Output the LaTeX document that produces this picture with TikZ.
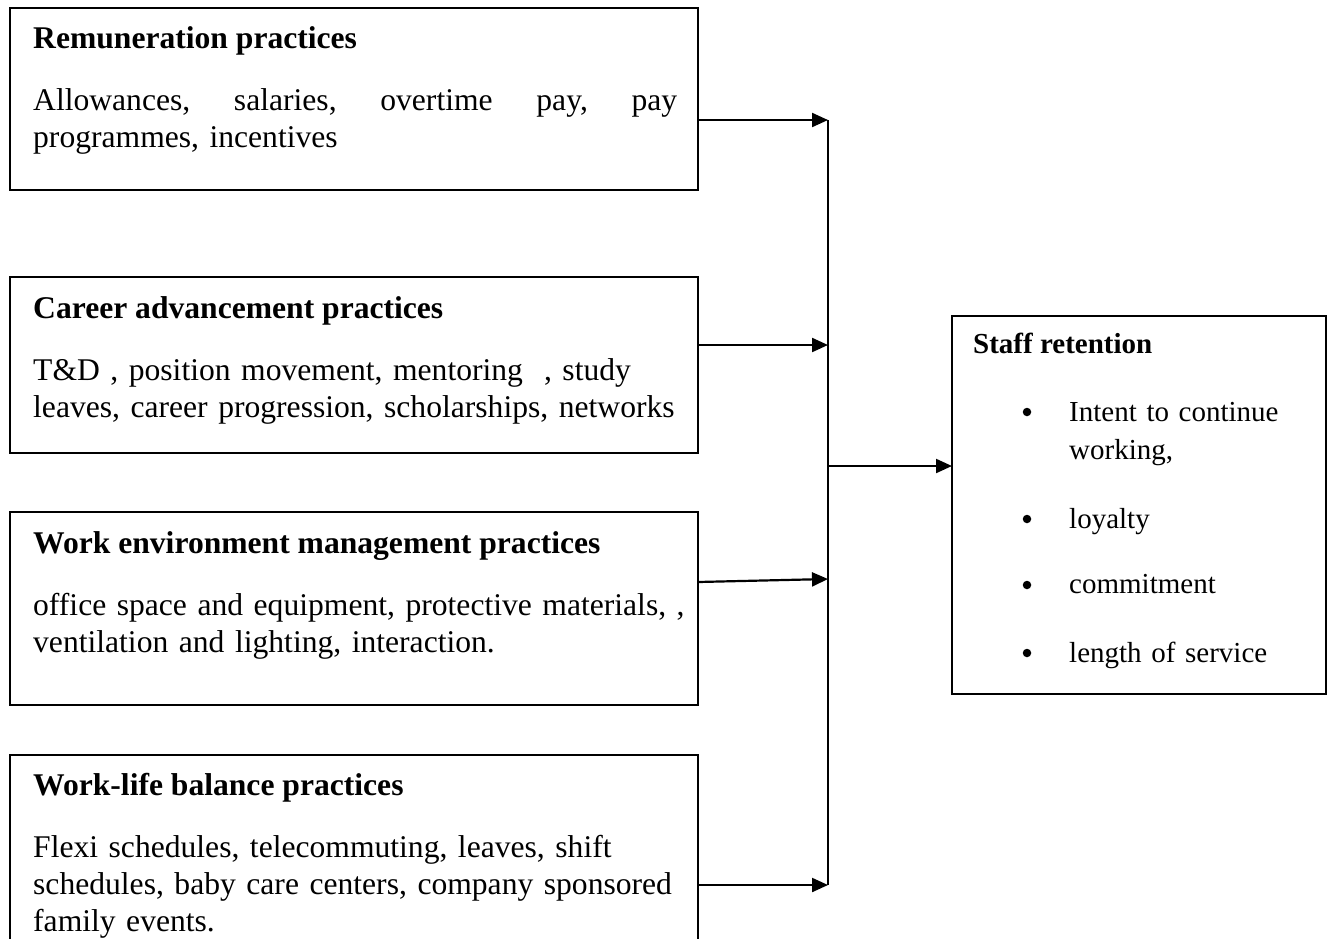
\documentclass[tikz,border=0pt]{standalone}
\usepackage{fontspec}
\setmainfont{Liberation Serif}
\usetikzlibrary{arrows.meta,calc}
\newcommand\leftfont{\fontsize{31.6}{37}\selectfont}
\newcommand\rightfont{\fontsize{29}{38}\selectfont}
\begin{document}
\begin{tikzpicture}[x=1pt,y=-1pt,
  box/.style={draw,line width=1.8pt},
  ttl/.style={anchor=base west,inner sep=0pt,font=\leftfont\bfseries},
  bdy/.style={anchor=base west,inner sep=0pt,font=\leftfont,text width=660pt,align=left},
  rttl/.style={anchor=base west,inner sep=0pt,font=\rightfont\bfseries},
  ritem/.style={anchor=base west,inner sep=0pt,font=\rightfont,text width=250pt,align=left},
  rbul/.style={circle,fill,inner sep=0pt,minimum size=8.5pt},
  arr/.style={line width=2.2pt,-{Triangle[length=16pt,width=14pt]}},
  bus/.style={line width=1.8pt}]
\useasboundingbox (0,0) rectangle (1331,938);
% boxes
\draw[box] (10,8) rectangle (698,190);
\draw[box] (10,277) rectangle (698,453);
\draw[box] (10,512) rectangle (698,705);
\draw[box] (10,960) -- (10,755) -- (698,755) -- (698,960);
\draw[box] (952,316) rectangle (1326,694);
% connection points
\coordinate (b1) at (698,120);
\coordinate (b2) at (698,345);
\coordinate (b3) at (698,582);
\coordinate (b4) at (698,885);
\coordinate (j1) at (828,120);
\coordinate (j2) at (828,345);
\coordinate (j3) at (828,579);
\coordinate (j4) at (828,885);
\coordinate (jm) at (828,466);
\coordinate (sr) at (952,466);
% texts
\node[ttl] (t1) at (33,48) {Remuneration practices};
\node[bdy] (d1) at (33,110) {\hbox to 644pt{Allowances,\hfill salaries,\hfill overtime\hfill pay,\hfill pay}\\programmes, incentives};
\node[ttl] (t2) at (33,318) {Career advancement practices};
\node[bdy] (d2) at (33,380) {T\&D , position movement, mentoring\ \ , study\\leaves, career progression, scholarships, networks};
\node[ttl] (t3) at (33,553) {Work environment management practices};
\node[bdy] (d3) at (33,615) {office space and equipment, protective materials, ,\\ventilation and lighting, interaction.};
\node[ttl] (t4) at (33,795) {Work-life balance practices};
\node[bdy] (d4) at (33,857) {Flexi schedules, telecommuting, leaves, shift\\schedules, baby care centers, company sponsored\\family events.};
\node[rttl] (t5) at (973,353) {Staff retention};
\node[rbul] (u1) at (1027,412) {};
\node[ritem] (i1) at (1069,421) {Intent to continue\\working,};
\node[rbul] (u2) at (1027,519) {};
\node[ritem] (i2) at (1069,528) {loyalty};
\node[rbul] (u3) at (1027,585) {};
\node[ritem] (i3) at (1069,593) {commitment};
\node[rbul] (u4) at (1027,653) {};
\node[ritem] (i4) at (1069,662) {length of service};
% connectors
\draw[bus] (j1) -- (j4);
\draw[arr] (b1) -- (j1);
\draw[arr] (b2) -- (j2);
\draw[arr] (b3) -- (j3);
\draw[arr] (b4) -- (j4);
\draw[arr] (jm) -- (sr);
\end{tikzpicture}
\end{document}
